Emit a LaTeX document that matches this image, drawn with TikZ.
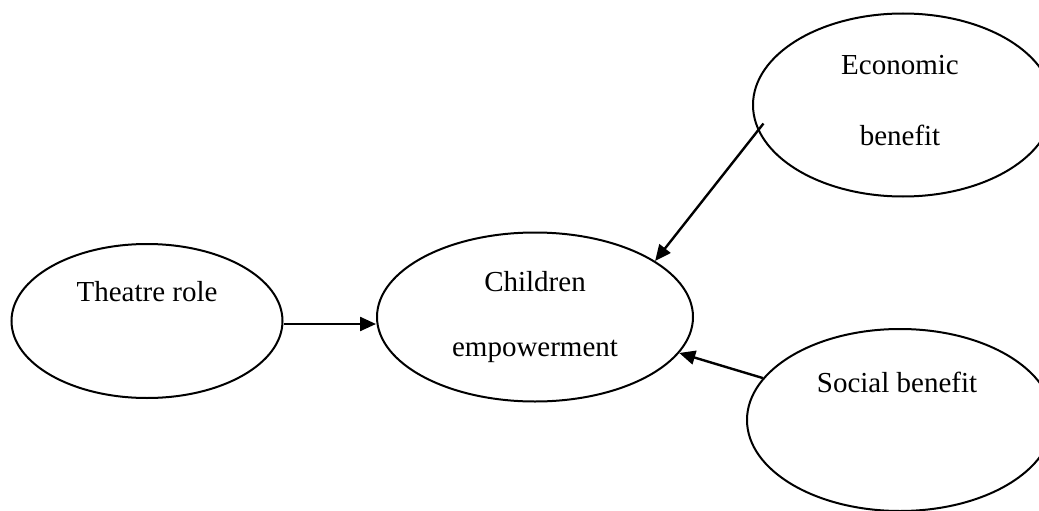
\documentclass[tikz,border=0pt]{standalone}
\usepackage{fontspec}
\setmainfont{Liberation Serif}
\usetikzlibrary{shapes.geometric,arrows.meta}
\begin{document}
\begin{tikzpicture}[x=1pt,y=-1pt,
  oval/.style={draw,ellipse,line width=2pt,inner sep=0pt},
  lbl/.style={font=\fontsize{29}{34}\selectfont,inner sep=0pt,anchor=center},
  arr/.style={line width=2.4pt,-{Triangle[length=16pt,width=14pt]}}]
\useasboundingbox (0,0) rectangle (1039,511);
\clip (0,0) rectangle (1039,511);
\node[oval,minimum width=271pt,minimum height=154pt] (theatre) at (147,321) {};
\node[oval,minimum width=316pt,minimum height=169pt] (children) at (535,317) {};
\node[oval,minimum width=300pt,minimum height=183pt] (economic) at (903,105) {};
\node[oval,minimum width=306pt,minimum height=182pt] (social) at (900,420) {};
\node[lbl] (t1) at (147,292) {Theatre role};
\node[lbl] (c1) at (535,282) {Children};
\node[lbl] (c2) at (535,351) {empowerment};
\node[lbl] (e1) at (900,65) {Economic};
\node[lbl] (e2) at (900,135) {benefit};
\node[lbl] (s1) at (897,382) {Social benefit};
\draw[arr] ([yshift=-3pt]theatre.east) -- ([yshift=-3pt]theatre.east -| children.west);
\draw[arr,shorten <=-9pt] (economic.190) -- (children.25);
\draw[arr] (social.163) -- (children.-14);
\end{tikzpicture}
\end{document}
